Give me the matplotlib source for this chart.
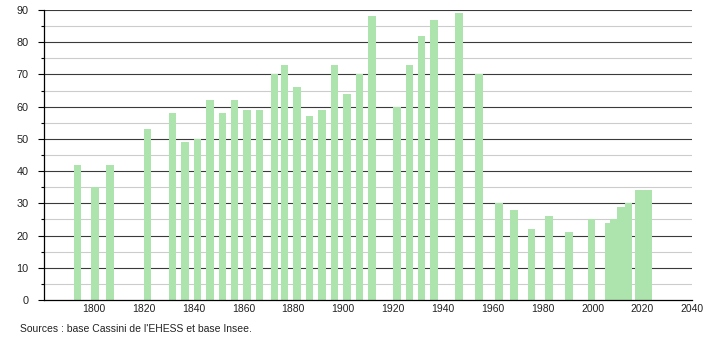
import matplotlib
matplotlib.use('Agg')
import matplotlib.pyplot as plt
from matplotlib.ticker import MultipleLocator

plt.rcParams['font.family'] = ['Liberation Sans', 'DejaVu Sans']

# années de recensement et population
annees = [1793, 1800, 1806, 1821, 1831, 1836, 1841, 1846, 1851, 1856,
          1861, 1866, 1872, 1876, 1881, 1886, 1891, 1896, 1901, 1906,
          1911, 1921, 1926, 1931, 1936, 1946, 1954, 1962, 1968, 1975,
          1982, 1990, 1999, 2006, 2008, 2011, 2014, 2018, 2020, 2022]
population = [42, 35, 42, 53, 58, 49, 50, 62, 58, 62,
              59, 59, 70, 73, 66, 57, 59, 73, 64, 70,
              88, 60, 73, 82, 87, 89, 70, 30, 28, 22,
              26, 21, 25, 24, 25, 29, 30, 34, 34, 34]

x_ticks = [1800, 1820, 1840, 1860, 1880, 1900, 1920, 1940, 1960, 1980, 2000, 2020, 2040]
source = "Sources : base Cassini de l'EHESS et base Insee."

fig = plt.figure(figsize=(7.1, 3.4), dpi=100)
ax = fig.add_axes([0.062, 0.1176, 0.913, 0.853])

# grille : traits foncés tous les 10, clairs tous les 5
for v in range(5, 90, 10):
    ax.axhline(v, color='#cccccc', lw=0.8, zorder=1)
for v in range(10, 91, 10):
    ax.axhline(v, color='#3a3a3a', lw=0.8, zorder=1)

ax.bar([a + 0.5 for a in annees], population, width=3.0, color='#ade3ad', zorder=2)

ax.set_xlim(1780, 2040)
ax.set_ylim(0, 90)
ax.set_xticks(x_ticks)
ax.set_xticklabels([str(t) for t in x_ticks])
ax.yaxis.set_major_locator(MultipleLocator(10))
ax.yaxis.set_minor_locator(MultipleLocator(5))

for s in ['top', 'right']:
    ax.spines[s].set_visible(False)
ax.spines['left'].set_color('black')
ax.spines['bottom'].set_color('black')
ax.spines['left'].set_linewidth(0.9)
ax.spines['bottom'].set_linewidth(0.9)

ax.tick_params(axis='x', length=0, pad=3, labelsize=7.5, labelcolor='#222222')
ax.tick_params(axis='y', which='major', length=4, width=0.8, pad=7,
               labelsize=7.8, labelcolor='#222222')
ax.tick_params(axis='y', which='minor', length=2, width=0.8)

fig.text(20 / 710, 1 - 329 / 340, source, fontsize=7.45, color='#222222',
         ha='left', va='center')

fig.savefig('out.png', dpi=100)
